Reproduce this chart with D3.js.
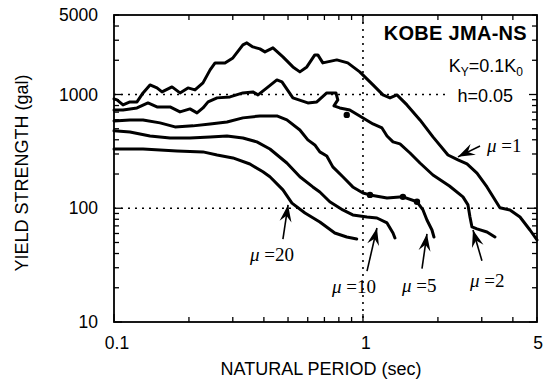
<!DOCTYPE html>
<html>
<head>
<meta charset="utf-8">
<script src="https://cdn.jsdelivr.net/npm/d3@7"></script>
<style>
  body { margin: 0; background: #fff; }
  svg { display: block; }
</style>
</head>
<body>
<svg id="chart" width="554" height="384"></svg>
<script>
// axis ranges and labels
const periodDomain = [0.1, 5];
const strengthDomain = [10, 5000];
const xTickLabels = [0.1, 1, 5];
const yTickLabels = [10, 100, 1000, 5000];
const gridPeriods = [1];
const gridStrengths = [100, 1000];

// yield strength spectra [period (sec), strength (gal)]
const mu1 = [
  [0.1, 915], [0.1028, 897], [0.1087, 810], [0.1159, 861], [0.1237, 861], [0.1308, 1033],
  [0.1395, 1214], [0.1488, 1143], [0.1559, 1054], [0.171, 1166], [0.1841, 1033], [0.1982, 1143],
  [0.2115, 1098], [0.2277, 1265], [0.2432, 1646], [0.2547, 1896], [0.279, 1896], [0.3003, 2098],
  [0.3294, 2731], [0.3417, 2843], [0.3613, 2622], [0.3855, 2518], [0.4038, 2370], [0.4349, 2570],
  [0.477, 2141], [0.523, 1748], [0.5579, 1581], [0.595, 1748], [0.6406, 2230], [0.6586, 2230],
  [0.6899, 1896], [0.7851, 2015], [0.8687, 1896], [0.9705, 1581], [1.097, 1214], [1.203, 992],
  [1.284, 934], [1.369, 992], [1.502, 810], [1.694, 598], [1.91, 424], [2.195, 294], [2.407, 266],
  [2.617, 245], [2.87, 204], [3.148, 154], [3.548, 101], [3.894, 96.6], [4.272, 83.8],
  [4.685, 64.4], [5.0, 52.6]
];
const mu2 = [
  [0.1, 732], [0.1087, 732], [0.1237, 762], [0.1369, 844], [0.1488, 778], [0.1679, 778],
  [0.1841, 703], [0.2019, 747], [0.2155, 689], [0.2277, 762], [0.2387, 861], [0.2595, 934],
  [0.2922, 953], [0.3294, 1033], [0.3613, 1054], [0.3788, 992], [0.4113, 1143], [0.4511, 1344],
  [0.4727, 1291], [0.523, 934], [0.6005, 844], [0.6526, 861], [0.7155, 1033], [0.7789, 1033],
  [0.7923, 897], [0.7647, 794], [0.8071, 762], [0.885, 732], [0.9705, 648], [1.097, 551],
  [1.192, 508], [1.249, 432], [1.32, 383], [1.408, 368], [1.545, 306], [1.694, 250],
  [1.91, 196], [2.225, 157], [2.521, 126], [2.641, 107], [2.69, 83.8], [2.74, 68.5],
  [2.87, 65.8], [3.148, 61.9], [3.389, 55.9]
];
const mu5 = [
  [0.1, 586], [0.1159, 598], [0.1308, 598], [0.153, 563], [0.1758, 519], [0.2076, 530],
  [0.2432, 551], [0.2843, 574], [0.3294, 623], [0.3855, 648], [0.4511, 648], [0.4947, 598],
  [0.5579, 488], [0.6005, 399], [0.6406, 360], [0.6709, 313], [0.7155, 288], [0.7565, 231],
  [0.8299, 189], [0.9099, 154], [1.0, 136], [1.067, 131], [1.249, 123], [1.447, 126],
  [1.648, 114], [1.742, 96.6], [1.807, 78.9], [1.893, 64.4], [1.928, 55.9]
];
const mu10 = [
  [0.1, 479], [0.1159, 469], [0.1395, 432], [0.1679, 415], [0.2019, 415], [0.2432, 424],
  [0.2843, 432], [0.3294, 415], [0.3749, 383], [0.4229, 332], [0.4947, 250], [0.5579, 189],
  [0.6289, 154], [0.6709, 139], [0.7357, 114], [0.8299, 96.6], [0.9099, 87.3], [1.038, 83.8],
  [1.138, 82.1], [1.249, 74.3], [1.32, 60.6], [1.344, 54.8]
];
const mu20 = [
  [0.1, 332], [0.1308, 332], [0.1791, 319], [0.2277, 313], [0.2595, 294], [0.3003, 277],
  [0.3514, 245], [0.3964, 209], [0.4229, 189], [0.477, 145], [0.5185, 111], [0.5849, 90.9],
  [0.6709, 75.8], [0.7706, 60.6], [0.8608, 55.9], [0.9438, 53.7]
];
const curves = [mu1, mu2, mu5, mu10, mu20];

// small filled markers sitting on the curves
const dots = [[0.8608, 662], [1.067, 131], [1.447, 126], [1.648, 114]];

// ductility labels: arrow tip, arrow tail, text anchor
const muLabels = ['1', '2', '5', '10', '20'];
const arrowTips = [[2.407, 283], [2.766, 64.4], [1.807, 59.4], [1.138, 67.1], [0.5001, 107]];
const arrowTails = [[2.952, 353], [3.005, 34.5], [1.726, 29.5], [1.038, 28.0], [0.477, 53.5]];
const labelAnchors = [[3.148, 313], [2.69, 20.3], [1.434, 18.4], [0.7508, 18.0], [0.3514, 34.4]];

const margin = { top: 15, right: 17, bottom: 62, left: 114 };
const W = 554, H = 384;
const svg = d3.select('#chart');

const x = d3.scaleLog().domain(periodDomain).range([margin.left, W - margin.right]);
const y = d3.scaleLog().domain(strengthDomain).range([H - margin.bottom, margin.top]);
const x0 = margin.left, x1 = W - margin.right, y0 = H - margin.bottom, y1 = margin.top;

const sans = '"Liberation Sans", Arial, Helvetica, sans-serif';
const serif = '"Liberation Serif", "Times New Roman", serif';

// dotted reference lines
const dotted = svg.append('g').attr('stroke', '#000').attr('stroke-width', 1.6)
  .attr('stroke-dasharray', '2,5');
gridStrengths.forEach(v => {
  dotted.append('line')
    .attr('x1', x0).attr('x2', v === 1000 ? 446 : x1)
    .attr('y1', y(v)).attr('y2', y(v));
});
gridPeriods.forEach(v => {
  dotted.append('line')
    .attr('x1', x(v)).attr('x2', x(v))
    .attr('y1', y1).attr('y2', y0);
});

// frame and inward ticks
svg.append('rect')
  .attr('x', x0).attr('y', y1).attr('width', x1 - x0).attr('height', y0 - y1)
  .attr('fill', 'none').attr('stroke', '#000').attr('stroke-width', 1.8);

const isDecade = v => Math.abs(Math.log10(v) - Math.round(Math.log10(v))) < 1e-6;
const ticks = svg.append('g').attr('stroke', '#000').attr('stroke-width', 1.3);
x.ticks().forEach(v => {
  const len = isDecade(v) ? 8 : 5;
  ticks.append('line').attr('x1', x(v)).attr('x2', x(v)).attr('y1', y0).attr('y2', y0 - len);
  ticks.append('line').attr('x1', x(v)).attr('x2', x(v)).attr('y1', y1).attr('y2', y1 + len);
});
y.ticks().forEach(v => {
  const len = isDecade(v) ? 8 : 5;
  ticks.append('line').attr('x1', x0).attr('x2', x0 + len).attr('y1', y(v)).attr('y2', y(v));
  ticks.append('line').attr('x1', x1).attr('x2', x1 - len).attr('y1', y(v)).attr('y2', y(v));
});

// tick labels
svg.append('g').selectAll('text').data(yTickLabels).enter().append('text')
  .attr('x', 98).attr('y', d => y(d) + 6)
  .attr('text-anchor', 'end')
  .attr('font-family', sans).attr('font-size', 17.5)
  .text(d => d);
svg.append('g').selectAll('text').data(xTickLabels).enter().append('text')
  .attr('x', d => x(d) + (d === 0.1 ? 3 : d === 1 ? 3 : 1)).attr('y', 349)
  .attr('text-anchor', 'middle')
  .attr('font-family', sans).attr('font-size', 17.5)
  .text(d => d);

// axis titles
svg.append('text')
  .attr('x', 321).attr('y', 375)
  .attr('text-anchor', 'middle')
  .attr('font-family', sans).attr('font-size', 18)
  .text('NATURAL PERIOD (sec)');
svg.append('text')
  .attr('transform', 'translate(28,173) rotate(-90)')
  .attr('text-anchor', 'middle')
  .attr('font-family', sans).attr('font-size', 18)
  .text('YIELD STRENGTH (gal)');

// curves
const line = d3.line().x(d => x(d[0])).y(d => y(d[1])).curve(d3.curveLinear);
svg.append('g').selectAll('path').data(curves).enter().append('path')
  .attr('d', line)
  .attr('fill', 'none').attr('stroke', '#000')
  .attr('stroke-width', 3).attr('stroke-linejoin', 'round').attr('stroke-linecap', 'round');

svg.append('g').selectAll('circle').data(dots).enter().append('circle')
  .attr('cx', d => x(d[0])).attr('cy', d => y(d[1])).attr('r', 3.2)
  .attr('fill', '#000');

// arrows and mu labels
const arrows = svg.append('g');
muLabels.forEach((lab, i) => {
  const tx = x(arrowTips[i][0]), ty = y(arrowTips[i][1]);
  const sx = x(arrowTails[i][0]), sy = y(arrowTails[i][1]);
  const ang = Math.atan2(ty - sy, tx - sx);
  arrows.append('line')
    .attr('x1', sx).attr('y1', sy).attr('x2', tx).attr('y2', ty)
    .attr('stroke', '#000').attr('stroke-width', 1.6);
  const L = 17, Wd = 6, N = 6;
  const pts = [[0, 0], [-L, -Wd], [-L + N, 0], [-L, Wd]].map(([u, v]) => [
    tx + u * Math.cos(ang) - v * Math.sin(ang),
    ty + u * Math.sin(ang) + v * Math.cos(ang)
  ]);
  arrows.append('path').attr('d', 'M' + pts.join('L') + 'Z').attr('fill', '#000');

  const t = arrows.append('text')
    .attr('x', x(labelAnchors[i][0])).attr('y', y(labelAnchors[i][1]))
    .attr('font-family', serif).attr('font-size', 19);
  t.append('tspan').attr('font-style', 'italic').text('\u03bc');
  t.append('tspan').text(' =' + lab);
});

// title block
svg.append('text')
  .attr('x', 527).attr('y', 40).attr('text-anchor', 'end')
  .attr('font-family', sans).attr('font-size', 20).attr('font-weight', 'bold')
  .attr('letter-spacing', 0.3)
  .text('KOBE JMA-NS');
const k = svg.append('text')
  .attr('x', 523).attr('y', 72).attr('text-anchor', 'end')
  .attr('font-family', sans).attr('font-size', 18);
k.append('tspan').text('K');
k.append('tspan').attr('font-size', 12).attr('dy', 4).text('Y');
k.append('tspan').attr('dy', -4).text('=0.1K');
k.append('tspan').attr('font-size', 12).attr('dy', 4).text('0');
svg.append('text')
  .attr('x', 513).attr('y', 102).attr('text-anchor', 'end')
  .attr('font-family', sans).attr('font-size', 18)
  .text('h=0.05');
</script>
</body>
</html>
